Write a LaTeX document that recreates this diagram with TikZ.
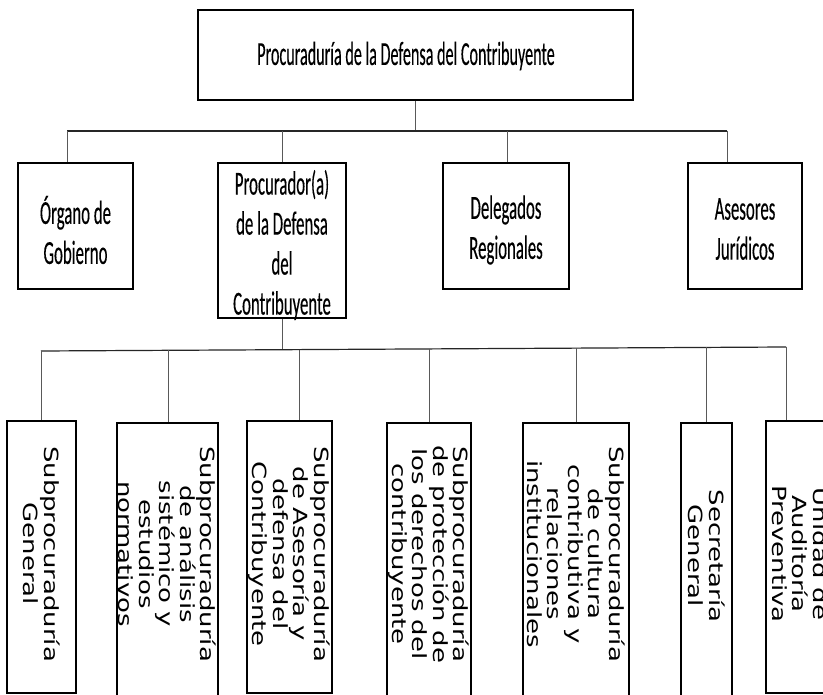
\documentclass[tikz,border=0pt]{standalone}
\usepackage{fontspec}
\newfontfamily\calib[FakeStretch=0.5,FakeBold=0.25]{Carlito}
\newfontfamily\calibtop[FakeStretch=0.48,FakeBold=0.25]{Carlito}
\newfontfamily\dvs[FakeStretch=1.33]{DejaVu Sans}
\begin{document}
\begin{tikzpicture}[x=1pt,y=-1pt,
  box/.style={draw=black, line width=1.3pt, inner sep=0pt, fill=white},
  htext/.style={font=\calib\fontsize{33.6}{40}\selectfont, align=center, inner sep=0pt},
  toptext/.style={font=\calibtop\fontsize{33.6}{40}\selectfont, align=center, inner sep=0pt},
  vtext/.style={font=\dvs\fontsize{19.5}{20.5}\selectfont, align=center, inner sep=0pt, rotate=-90},
  bus/.style={draw=black!85, line width=1.2pt},
  conn/.style={draw=black!65, line width=1pt}]
\useasboundingbox (0,0) rectangle (823,695);
\fill[white] (0,0) rectangle (823,695);

% top
\node[box, minimum width=435pt, minimum height=90pt] (top) at (415.5,55) {};
\node[toptext] (ttop) at (406,56) {Procuraduría de la Defensa del Contribuyente};

% level 2 boxes
\node[box, minimum width=115pt, minimum height=126pt] (org) at (75.5,226) {};
\node[box, minimum width=128pt, minimum height=155pt] (proc) at (282,240.5) {};
\node[box, minimum width=126pt, minimum height=126pt] (del) at (506,226) {};
\node[box, minimum width=114pt, minimum height=126pt] (ase) at (745,226) {};
\node[htext] (torg) at (75.5,230) {Órgano de\\Gobierno};
\node[htext] (tproc) at (282,245) {Procurador(a)\\de la Defensa\\del\\Contribuyente};
\node[htext] (tdel) at (506,230) {Delegados\\Regionales};
\node[htext] (tase) at (745,229) {Asesores\\Jurídicos};

% upper bus
\coordinate (u1) at (67,131);
\coordinate (u2) at (282,131);
\coordinate (u3) at (507,131);
\coordinate (u4) at (727,131);
\draw[conn] (top.south) -- (top.south |- u1);
\draw[bus] (u1) -- (u4);
\draw[conn] (u1) -- (u1 |- org.north);
\draw[conn] (u2) -- (u2 |- proc.north);
\draw[conn] (u3) -- (u3 |- del.north);
\draw[conn] (u4) -- (u4 |- ase.north);

% level 3 boxes
\node[box, minimum width=69pt, minimum height=272pt] (s1) at (41.5,557) {};
\node[box, minimum width=101pt, minimum height=282pt] (s2) at (167.5,564) {};
\node[box, minimum width=85pt, minimum height=272pt] (s3) at (289.5,557) {};
\node[box, minimum width=84pt, minimum height=282pt] (s4) at (429,564) {};
\node[box, minimum width=106pt, minimum height=282pt] (s5) at (576,564) {};
\node[box, minimum width=51pt, minimum height=282pt] (s6) at (706.5,564) {};
\node[box, minimum width=68pt, minimum height=272pt] (s7) at (800,557) {};

\node[vtext] (v1) at (41.5,554) {Subprocuraduría\\General};
\node[vtext] (v2) at (167.5,554) {Subprocuraduría\\de análisis\\sistémico y\\estudios\\normativos};
\node[vtext] (v3) at (289.5,554) {Subprocuraduría\\de Asesoría y\\defensa del\\Contribuyente};
\node[vtext] (v4) at (429,554) {Subprocuraduría\\de protección de\\los derechos del\\contribuyente};
\node[vtext] (v5) at (576,554) {Subprocuraduría\\de cultura\\contributiva y\\relaciones\\institucionales};
\node[vtext] (v6) at (706.5,556) {Secretaría\\General};
\node[vtext] (v7) at (800,554) {Unidad de\\Auditoría\\Preventiva};

% lower bus
\coordinate (l1) at (41,351);
\coordinate (lp) at (282,349.7);
\coordinate (l2) at (168,350.3);
\coordinate (l3) at (299,349.6);
\coordinate (l4) at (429,348.9);
\coordinate (l5) at (576,348.1);
\coordinate (l6) at (706,347.4);
\coordinate (l7) at (786,347);
\draw[conn] (proc.south) -- (lp);
\draw[bus] (l1) -- (l7);
\draw[conn] (l1) -- (l1 |- s1.north);
\draw[conn] (l2) -- (l2 |- s2.north);
\draw[conn] (l3) -- (l3 |- s3.north);
\draw[conn] (l4) -- (l4 |- s4.north);
\draw[conn] (l5) -- (l5 |- s5.north);
\draw[conn] (l6) -- (l6 |- s6.north);
\draw[conn] (l7) -- (l7 |- s7.north);
\end{tikzpicture}
\end{document}
